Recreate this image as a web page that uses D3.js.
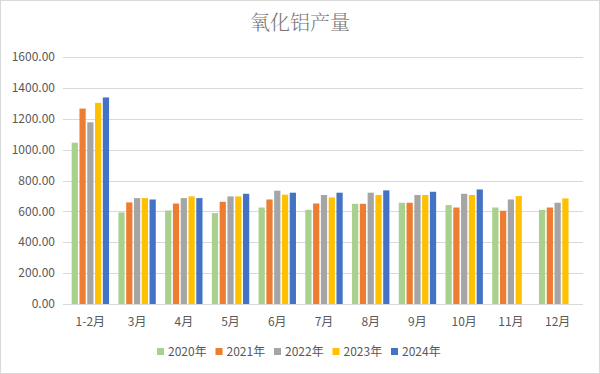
<!DOCTYPE html>
<html>
<head>
<meta charset="utf-8">
<script src="https://cdn.jsdelivr.net/npm/d3@7"></script>
<style>
  html, body { margin: 0; padding: 0; background: #fff; }
  svg { display: block; }
</style>
</head>
<body>
<div class="chart"></div>
<script>
// 데이터
const months = ['1-2月', '3月', '4月', '5月', '6月', '7月', '8月', '9月', '10月', '11月', '12月'];
const years = ['2020年', '2021年', '2022年', '2023年', '2024年'];
const v2020 = [1045, 593, 606, 589, 625, 610, 649, 656, 641, 625, 610];
const v2021 = [1266, 658, 651, 662, 677, 651, 649, 656, 625, 604, 625];
const v2022 = [1177, 686, 686, 697, 734, 706, 721, 706, 714, 677, 656];
const v2023 = [1303, 686, 697, 697, 708, 690, 706, 706, 706, 699, 684];
const v2024 = [1338, 677, 686, 714, 721, 721, 736, 727, 742, null, null];
const yTicks = [0, 200, 400, 600, 800, 1000, 1200, 1400, 1600];
const colors = ['#A9D18E', '#ED7D31', '#A5A5A5', '#FFC000', '#4472C4'];

const series = [v2020, v2021, v2022, v2023, v2024];
const W = 600, H = 374;
const font = '"Microsoft YaHei", "Noto Sans CJK SC", sans-serif';

const svg = d3.select('.chart').append('svg')
  .attr('width', W)
  .attr('height', H);

// 외곽선
svg.append('rect')
  .attr('x', 0.5).attr('y', 0.5)
  .attr('width', W - 1).attr('height', H - 1)
  .attr('fill', '#fff')
  .attr('stroke', '#d9d9d9');

// 스케일
const y = d3.scaleLinear().domain([0, 1600]).range([304, 57]);
const x0 = d3.scaleBand().domain(months).range([67, 581]).paddingInner(0.2).paddingOuter(0.1);
const x1 = d3.scaleBand().domain(d3.range(years.length)).range([0, x0.bandwidth()]).paddingInner(0.2);

// 그리드
svg.append('g')
  .selectAll('line')
  .data(yTicks)
  .join('line')
    .attr('x1', 63).attr('x2', 583)
    .attr('y1', d => Math.round(y(d)) + 0.5)
    .attr('y2', d => Math.round(y(d)) + 0.5)
    .attr('stroke', '#d9d9d9')
    .attr('stroke-width', 1);

// y축 레이블
svg.append('g')
  .selectAll('text')
  .data(yTicks)
  .join('text')
    .attr('x', 55)
    .attr('y', d => y(d))
    .attr('dy', '0.35em')
    .attr('text-anchor', 'end')
    .attr('font-family', font)
    .attr('font-size', 12)
    .attr('fill', '#595959')
    .text(d => d3.format('.2f')(d));

// 막대
svg.append('g')
  .selectAll('g')
  .data(months)
  .join('g')
    .attr('transform', d => `translate(${x0(d)},0)`)
  .selectAll('rect')
  .data((d, i) => series.map((s, k) => ({k, v: s[i]})).filter(e => e.v != null))
  .join('rect')
    .attr('x', d => x1(d.k))
    .attr('width', x1.bandwidth())
    .attr('y', d => y(d.v))
    .attr('height', d => y(0) - y(d.v))
    .attr('fill', d => colors[d.k]);

// x축 레이블
svg.append('g')
  .selectAll('text')
  .data(months)
  .join('text')
    .attr('x', d => x0(d) + x0.bandwidth() / 2)
    .attr('y', 326)
    .attr('text-anchor', 'middle')
    .attr('font-family', font)
    .attr('font-size', 12)
    .attr('fill', '#595959')
    .text(d => d);

// 제목
svg.append('text')
  .attr('x', W / 2)
  .attr('y', 30)
  .attr('text-anchor', 'middle')
  .attr('font-family', '"Noto Serif CJK SC", "Noto Sans CJK SC", serif')
  .attr('font-size', 20)
  .attr('font-weight', 300)
  .attr('fill', '#767676')
  .text('氧化铝产量');

// 범례
const legend = svg.append('g')
  .selectAll('g')
  .data(years)
  .join('g')
    .attr('transform', (d, i) => `translate(${157 + i * 58.5},352)`);
legend.append('rect')
  .attr('x', 0).attr('y', -4)
  .attr('width', 7).attr('height', 7)
  .attr('fill', (d, i) => colors[i]);
legend.append('text')
  .attr('x', 11)
  .attr('y', 0)
  .attr('dy', '0.35em')
  .attr('font-family', font)
  .attr('font-size', 12)
  .attr('fill', '#595959')
  .text(d => d);
</script>
</body>
</html>
